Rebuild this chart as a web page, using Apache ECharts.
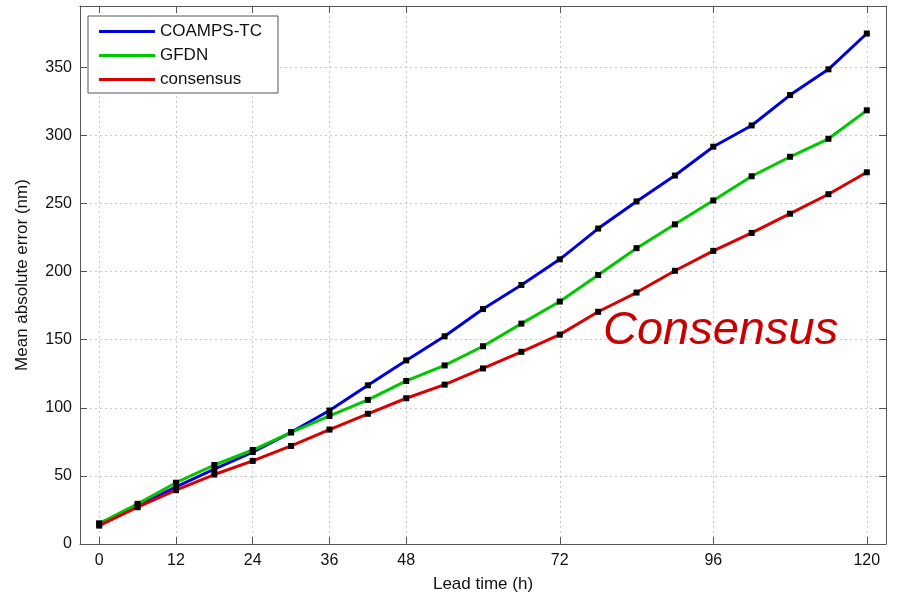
<!DOCTYPE html>
<html><head><meta charset="utf-8">
<script src="https://cdn.jsdelivr.net/npm/echarts@6/dist/echarts.min.js"></script>
<style>html,body{margin:0;padding:0;background:#fff}#c{width:897px;height:598px}</style>
</head><body><div id="c"></div>
<script>
const leadTime = [0,6,12,18,24,30,36,42,48,54,60,66,72,78,84,90,96,102,108,114,120];
const coamps = [15,28,42,55,67.5,82,98,116.5,134.8,152.5,172.5,190.2,209,231.6,251.5,270.5,291.7,307.3,329.6,348.5,374.8];
const gfdn = [15,29.5,45,58,69,82,94,105.8,119.7,131.1,145.2,161.8,178,197.5,217.2,234.7,252.2,270,284.3,297.5,318.4];
const consensus = [13.5,27,39.5,51,61,72,84,95.6,107,117,128.9,141.1,153.7,170.5,184.6,200.6,215.2,228.4,242.5,256.8,272.9];
const xTicks = [0,12,24,36,48,72,96,120];
const yTicks = [0,50,100,150,200,250,300,350];
const seriesNames = ['COAMPS-TC','GFDN','consensus'];
const seriesColors = ['#0000dd','#00c800','#d80000'];
const seriesData = [coamps, gfdn, consensus];

const font = '"Liberation Sans", Arial, sans-serif';
const chart = echarts.init(document.getElementById('c'));
const axisLineStyle = {color:'#555', width:1};
const series = seriesNames.map((n,i)=>({
  name:n, type:'line', xAxisIndex:0, yAxisIndex:0,
  data: leadTime.map((t,j)=>[t, seriesData[i][j]]),
  lineStyle:{color:seriesColors[i], width:3},
  itemStyle:{color:'#000'},
  symbol:'rect', symbolSize:6, showAllSymbol:true,
  z: 2+i, animation:false
}));
chart.setOption({
  backgroundColor:'#fff',
  animation:false,
  grid:{left:80, top:6, right:11, bottom:52, containLabel:false},
  xAxis:[{
    type:'value', min:-3, max:123, position:'bottom',
    name:'Lead time (h)', nameLocation:'middle', nameGap:32,
    nameTextStyle:{fontFamily:font, fontSize:17, color:'#111'},
    axisLine:{show:true, onZero:false, lineStyle:axisLineStyle},
    axisTick:{show:true, inside:true, length:7, customValues:xTicks, lineStyle:axisLineStyle},
    axisLabel:{customValues:xTicks, fontFamily:font, fontSize:16, color:'#111', margin:9},
    splitLine:{show:true, lineStyle:{color:'#c8c8c8', type:[2,3], width:1}}
  },{
    type:'value', min:-3, max:123, position:'top',
    axisLine:{show:true, onZero:false, lineStyle:axisLineStyle},
    axisTick:{show:true, inside:true, length:7, customValues:xTicks, lineStyle:axisLineStyle},
    axisLabel:{show:false}, splitLine:{show:false}
  }],
  yAxis:[{
    type:'value', min:0, max:395, position:'left',
    name:'Mean absolute error (nm)', nameLocation:'middle', nameGap:49, nameRotate:90,
    nameTextStyle:{fontFamily:font, fontSize:17, color:'#111'},
    axisLine:{show:true, onZero:false, lineStyle:axisLineStyle},
    axisTick:{show:true, inside:true, length:7, customValues:yTicks, lineStyle:axisLineStyle},
    axisLabel:{customValues:yTicks, fontFamily:font, fontSize:16, color:'#111', margin:8},
    splitLine:{show:true, lineStyle:{color:'#c8c8c8', type:[2,3], width:1}}
  },{
    type:'value', min:0, max:395, position:'right',
    axisLine:{show:true, onZero:false, lineStyle:axisLineStyle},
    axisTick:{show:true, inside:true, length:7, customValues:yTicks, lineStyle:axisLineStyle},
    axisLabel:{show:false}, splitLine:{show:false}
  }],
  legend:{
    orient:'vertical', left:88, top:16,
    backgroundColor:'#fff', borderColor:'#555', borderWidth:1,
    padding:[7,16,5,11], itemGap:7, itemWidth:56, itemHeight:3,
    textStyle:{fontFamily:font, fontSize:17, color:'#111'},
    data: seriesNames.map((n,i)=>({name:n, icon:'rect', itemStyle:{color:seriesColors[i]}}))
  },
  graphic:[{
    type:'text', left:603, top:307, z:100,
    style:{text:'Consensus', fontFamily:font, fontStyle:'italic', fontSize:47, fill:'#c80000'}
  }],
  series: series
});
</script></body></html>
